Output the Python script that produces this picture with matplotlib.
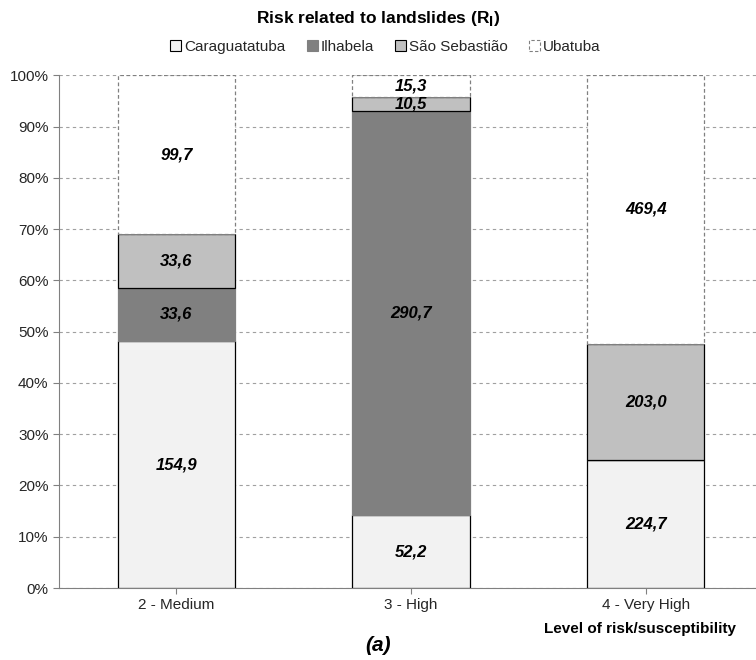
import matplotlib
matplotlib.use("Agg")
import matplotlib.pyplot as plt
import numpy as np
from matplotlib.patches import Patch

categories = ["2 - Medium", "3 - High", "4 - Very High"]
series = ["Caraguatatuba", "Ilhabela", "São Sebastião", "Ubatuba"]
caraguatatuba = [154.9, 52.2, 224.7]
ilhabela = [33.6, 290.7, 0.0]
sao_sebastiao = [33.6, 10.5, 203.0]
ubatuba = [99.7, 15.3, 469.4]

plt.rcParams["font.family"] = ["Liberation Sans", "DejaVu Sans"]

vals = np.array([caraguatatuba, ilhabela, sao_sebastiao, ubatuba])
pct = vals / vals.sum(axis=0) * 100
faces = ["#f2f2f2", "#808080", "#c0c0c0", "white"]
edges = ["black", "#808080", "black", "#808080"]
styles = ["solid", "solid", "solid", (0, (3, 2))]

fig = plt.figure(figsize=(7.56, 6.6), dpi=100)
ax = fig.add_axes([0.078, 0.109, 0.922, 0.777])
x = np.arange(len(categories))
bottom = np.zeros(len(categories))
for k in range(len(series)):
    ax.bar(x, pct[k], 0.5, bottom=bottom, color=faces[k], edgecolor=edges[k],
           linewidth=0.9, linestyle=styles[k], zorder=3)
    for j in range(len(categories)):
        if vals[k, j] > 0:
            ax.text(x[j], bottom[j] + pct[k, j] / 2, f"{vals[k, j]:.1f}".replace(".", ","),
                    ha="center", va="center", fontsize=12, fontweight="bold",
                    style="italic", zorder=4)
    bottom += pct[k]

ax.set_xlim(-0.5, 2.47)
ax.set_ylim(0, 100)
ax.set_yticks(range(0, 101, 10), [f"{v}%" for v in range(0, 101, 10)])
ax.set_xticks(x, categories)
ax.tick_params(labelsize=11, color="#808080", labelcolor="#262626", length=4)
ax.yaxis.grid(True, color="#a0a0a0", linestyle=(0, (3, 3)), linewidth=0.8, zorder=0)
for s in ["top", "right"]:
    ax.spines[s].set_visible(False)
for s in ["left", "bottom"]:
    ax.spines[s].set_color("#808080")

handles = [Patch(facecolor=faces[k], edgecolor=edges[k], linestyle=styles[k], linewidth=0.8)
           for k in range(len(series))]
fig.legend(handles, series, loc="center", bbox_to_anchor=(0.51, 0.929), ncol=4, frameon=False,
           fontsize=11, handlelength=0.7, handleheight=0.7, handletextpad=0.2, columnspacing=1.4,
           labelcolor="#262626")
fig.text(0.5, 0.972, r"Risk related to landslides (R$_\mathbf{l}$)", ha="center", va="center",
         fontsize=12.5, fontweight="bold")
fig.text(0.846, 0.047, "Level of risk/susceptibility", ha="center", va="center",
         fontsize=11, fontweight="bold")
fig.text(0.5, 0.022, "(a)", ha="center", va="center", fontsize=15, fontweight="bold",
         style="italic")
fig.savefig("out.png", dpi=100)
